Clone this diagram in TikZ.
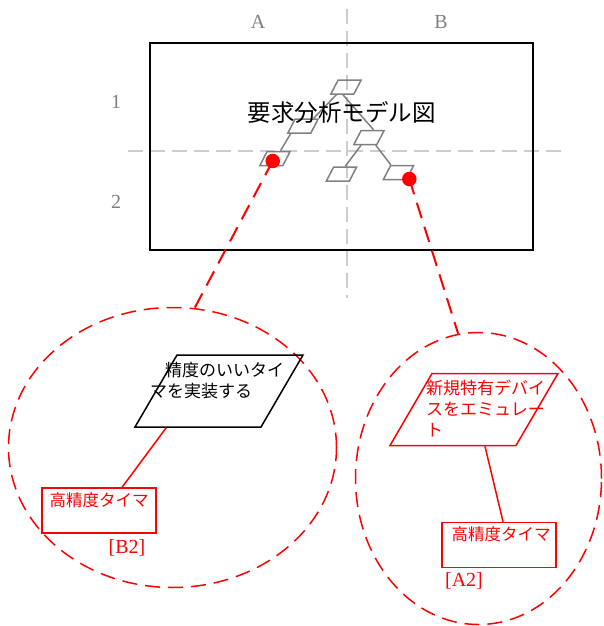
\documentclass[tikz,border=0pt]{standalone}
\usepackage{fontspec}
\setmainfont{Liberation Serif}
\newfontfamily\jp{Noto Sans CJK JP}
\usetikzlibrary{shapes.geometric,calc}
\definecolor{axisgray}{RGB}{205,205,205}
\definecolor{labgray}{RGB}{128,128,128}
\definecolor{pgray}{RGB}{128,128,128}
\tikzset{
  axis/.style={draw=axisgray, line width=1.6pt, dash pattern=on 15pt off 7pt},
  lab/.style={text=labgray, font=\fontsize{20}{20}\selectfont, inner sep=0},
  smallp/.style={rectangle, xslant=0.52, draw=pgray, line width=1.5pt,
     minimum width=23pt, minimum height=14pt, inner sep=0pt},
  bigp/.style={rectangle, xslant=0.583, line width=1.5pt,
     minimum width=126pt, minimum height=72pt, inner sep=0pt},
  tree/.style={draw=pgray, line width=1.5pt},
  dot/.style={circle, fill=red, minimum size=14.5pt, inner sep=0pt},
  zoomline/.style={draw=red, line width=2pt, dash pattern=on 16pt off 9pt},
  zoomell/.style={ellipse, draw=red, line width=1.5pt, dash pattern=on 15pt off 8pt, inner sep=0pt},
  jtxt/.style={font=\jp\fontsize{17}{21}\selectfont, inner sep=0pt, align=left},
  rbox/.style={draw=red, line width=1.5pt, inner sep=0pt, minimum width=114pt, minimum height=45pt},
  rlab/.style={text=red, font=\fontsize{20}{20}\selectfont, inner sep=0pt},
}
\begin{document}
\begin{tikzpicture}[x=1pt,y=-1pt]
\useasboundingbox (0,0) rectangle (603,626);
% grid axes
\coordinate (vt) at (347,9);
\coordinate (vb) at (347,298);
\coordinate (hl) at (128,151);
\coordinate (hr) at (561,151);
\draw[axis] (vt) -- (vb);
\draw[axis] (hl) -- (hr);
\node[lab] (lA) at (258,22) {A};
\node[lab] (lB) at (441,22) {B};
\node[lab] (l1) at (116,102) {1};
\node[lab] (l2) at (116,202) {2};
% frame
\node[draw=black, line width=1.6pt, minimum width=383pt, minimum height=207pt, inner sep=0pt] (frame) at (341.5,146.5) {};
% small tree
\node[smallp] (p1) at (346,87) {};
\node[smallp] (p2) at (303,126) {};
\node[smallp] (p3) at (275,158.5) {};
\node[smallp] (p4) at (369,137.5) {};
\node[smallp] (p5) at (341.5,174) {};
\node[smallp] (p6) at (398.5,172.5) {};
\draw[tree] ($(p1.south west)!0.27!(p1.south east)$) -- ($(p2.north west)!0.77!(p2.north east)$);
\draw[tree] ($(p2.south west)!0.16!(p2.south east)$) -- ($(p3.north west)!0.56!(p3.north east)$);
\draw[tree] ($(p1.south west)!0.54!(p1.south east)$) -- ($(p4.north west)!0.52!(p4.north east)$);
\draw[tree] ($(p4.south west)!0.34!(p4.south east)$) -- ($(p5.north west)!0.49!(p5.north east)$);
\draw[tree] ($(p4.south west)!0.94!(p4.south east)$) -- ($(p6.north west)!0.02!(p6.north east)$);
\node[font=\jp\fontsize{23.5}{23.5}\selectfont, inner sep=0pt] (title) at (341.5,112.5) {要求分析モデル図};
% zoom ellipses
\node[zoomell, minimum width=328pt, minimum height=280pt] (e1) at (172.5,447.5) {};
\node[zoomell, minimum width=246pt, minimum height=292pt] (e2) at (478.5,478.5) {};
\node[dot] (d1) at (272.7,161) {};
\node[dot] (d2) at (409.3,179) {};
\draw[zoomline] (d1.center) -- (e1.81);
\draw[zoomline] (d2.center) -- (e2.98);
% left detail
\node[bigp, draw=black] (P1) at (219,391) {};
\node[jtxt, anchor=north west] (t1) at (150,362) {\hspace*{15pt}精度のいいタイ\\マを実装する};
\node[rbox] (b1) at (99,510.5) {};
\node[font=\jp\fontsize{16.5}{16.5}\selectfont, text=red, inner sep=0pt] (bt1) at (99,500) {高精度タイマ};
\node[rlab] (B2) at (127,548) {[B2]};
\draw[draw=red, line width=1.5pt] ($(P1.south west)!0.254!(P1.south east)$) -- ($(b1.north west)!0.70!(b1.north east)$);
% right detail
\node[bigp, draw=red] (P2) at (474,409.5) {};
\node[jtxt, text=red, anchor=north west] (t2) at (426,380) {新規特有デバイ\\スをエミュレー\\ト};
\node[rbox] (b2) at (499,545) {};
\node[font=\jp\fontsize{16.5}{16.5}\selectfont, text=red, inner sep=0pt] (bt2) at (501,534) {高精度タイマ};
\node[rlab] (A2) at (464,581) {[A2]};
\draw[draw=red, line width=1.5pt] ($(P2.south west)!0.754!(P2.south east)$) -- ($(b2.north west)!0.535!(b2.north east)$);
\end{tikzpicture}
\end{document}
